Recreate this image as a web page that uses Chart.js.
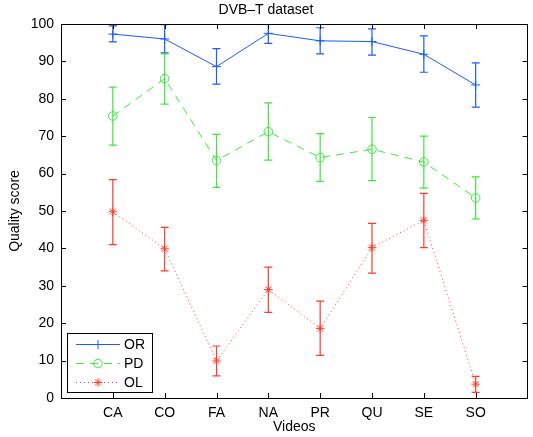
<!DOCTYPE html>
<html>
<head>
<meta charset="utf-8">
<script src="https://cdn.jsdelivr.net/npm/chart.js@4/dist/chart.umd.min.js"></script>
<style>
html,body{margin:0;padding:0;background:#fff;}
#wrap{width:533px;height:437px;}
</style>
</head>
<body>
<div id="wrap"><canvas id="c" width="533" height="437"></canvas></div>
<script>
const categories = ['CA','CO','FA','NA','PR','QU','SE','SO'];
const yTicks = [0,10,20,30,40,50,60,70,80,90,100];
const seriesNames = ['OR','PD','OL'];
const orValues = [97.3, 96.0, 88.6, 97.5, 95.5, 95.3, 91.9, 83.7];
const orHigh   = [99.5, 99.8, 93.4, 100.2, 99.0, 98.7, 96.8, 89.6];
const orLow    = [95.2, 92.3, 83.9, 94.8, 92.0, 91.7, 87.1, 77.8];
const pdValues = [75.4, 85.4, 63.5, 71.2, 64.3, 66.5, 63.1, 53.5];
const pdHigh   = [83.1, 92.0, 70.5, 78.9, 70.7, 75.0, 70.0, 59.1];
const pdLow    = [67.6, 78.6, 56.3, 63.6, 57.9, 58.1, 56.1, 47.9];
const olValues = [49.8, 39.9, 9.9, 29.0, 18.6, 40.2, 47.5, 3.7];
const olHigh   = [58.4, 45.6, 13.9, 35.0, 25.9, 46.7, 54.7, 5.8];
const olLow    = [41.0, 34.0, 5.9, 22.9, 11.4, 33.4, 40.2, 1.5];

const FONT = "'Liberation Sans',Arial,sans-serif";
const BLUE = '#1a5cff', GREEN = '#3ee63e', RED = '#ff3b2b';

function pts(vals){ return vals.map((v,i)=>({x:i+1,y:v})); }

const datasets = [
  {label:seriesNames[0], data:pts(orValues), hi:orHigh, lo:orLow, borderColor:BLUE, backgroundColor:BLUE,
   borderWidth:1, pointStyle:'cross', pointRadius:4.5, pointBorderWidth:1, pointBorderColor:BLUE, tension:0},
  {label:seriesNames[1], data:pts(pdValues), hi:pdHigh, lo:pdLow, borderColor:GREEN, backgroundColor:'rgba(0,0,0,0)',
   borderWidth:1, borderDash:[8,6], pointStyle:'circle', pointRadius:4.3, pointBorderWidth:1, pointBorderColor:GREEN, tension:0},
  {label:seriesNames[2], data:pts(olValues), hi:olHigh, lo:olLow, borderColor:RED, backgroundColor:RED,
   borderWidth:1, borderDash:[1,3], pointStyle:'star', pointRadius:4.3, pointBorderWidth:1, pointBorderColor:RED, tension:0}
];

const extras = {
  id:'extras',
  beforeDatasetsDraw(chart){
    const ctx = chart.ctx, a = chart.chartArea;
    const xs = chart.scales.x, ys = chart.scales.y;
    ctx.save();
    ctx.beginPath(); ctx.rect(a.left, a.top, a.right-a.left, a.bottom-a.top); ctx.clip();
    chart.data.datasets.forEach(ds=>{
      ctx.strokeStyle = ds.borderColor; ctx.lineWidth = 1.2; ctx.setLineDash([]);
      ds.data.forEach((p,i)=>{
        const px = xs.getPixelForValue(p.x);
        const yh = ys.getPixelForValue(ds.hi[i]);
        const yl = ys.getPixelForValue(ds.lo[i]);
        ctx.beginPath();
        ctx.moveTo(px, yh); ctx.lineTo(px, yl);
        ctx.moveTo(px-4, yh); ctx.lineTo(px+4, yh);
        ctx.moveTo(px-4, yl); ctx.lineTo(px+4, yl);
        ctx.stroke();
      });
    });
    ctx.restore();
  },
  afterDraw(chart){
    const ctx = chart.ctx, a = chart.chartArea;
    const xs = chart.scales.x, ys = chart.scales.y;
    ctx.save();
    ctx.strokeStyle = '#000'; ctx.lineWidth = 1; ctx.setLineDash([]);
    ctx.strokeRect(Math.round(a.left)+0.5, Math.round(a.top)+0.5, Math.round(a.right-a.left)-1, Math.round(a.bottom-a.top));
    ctx.beginPath();
    yTicks.forEach(v=>{
      const py = Math.round(ys.getPixelForValue(v))+0.5;
      ctx.moveTo(a.left, py); ctx.lineTo(a.left+5, py);
      ctx.moveTo(a.right, py); ctx.lineTo(a.right-5, py);
    });
    categories.forEach((c,i)=>{
      const px = Math.round(xs.getPixelForValue(i+1))+0.5;
      ctx.moveTo(px, a.bottom); ctx.lineTo(px, a.bottom-5);
      ctx.moveTo(px, a.top); ctx.lineTo(px, a.top+5);
    });
    ctx.stroke();
    // legend
    const lx = a.left+6, ly = 333, lw = 85, lh = 59;
    ctx.fillStyle = '#fff';
    ctx.fillRect(lx, ly, lw, lh);
    ctx.strokeStyle = '#000';
    ctx.strokeRect(lx+0.5, ly+0.5, lw, lh);
    chart.data.datasets.forEach((ds,i)=>{
      const cy = ly + 11 + i*19;
      ctx.save();
      ctx.strokeStyle = ds.borderColor; ctx.lineWidth = 1;
      ctx.setLineDash(ds.borderDash || []);
      ctx.beginPath(); ctx.moveTo(lx+9, cy+0.5); ctx.lineTo(lx+53, cy+0.5); ctx.stroke();
      ctx.setLineDash([]);
      ctx.strokeStyle = ds.borderColor;
      ctx.fillStyle = ds.backgroundColor;
      Chart.helpers.drawPoint(ctx, {pointStyle:ds.pointStyle, radius:ds.pointRadius, borderWidth:1, rotation:0}, lx+31, cy+0.5);
      ctx.restore();
      ctx.fillStyle = '#000';
      ctx.font = '14px ' + FONT;
      ctx.textBaseline = 'middle'; ctx.textAlign = 'left';
      ctx.fillText(ds.label, lx+57, cy+1);
    });
    ctx.restore();
  }
};

new Chart(document.getElementById('c'), {
  type:'line',
  data:{datasets:datasets},
  plugins:[extras],
  options:{
    responsive:false, animation:false, devicePixelRatio:1,
    layout:{padding:{left:0,right:1,top:0,bottom:0}},
    plugins:{
      legend:{display:false}, tooltip:{enabled:false},
      title:{display:true, text:'DVB\u2013T dataset', color:'#000',
        font:{family:FONT, size:14, weight:'normal'}, padding:{top:1.5,bottom:5.7}}
    },
    scales:{
      x:{type:'linear', min:0, max:9,
        afterBuildTicks(s){ s.ticks = categories.map((c,i)=>({value:i+1})); },
        afterFit(s){ s.height = 39; },
        grid:{display:false, drawTicks:false}, border:{display:false},
        ticks:{color:'#000', padding:7, autoSkip:false, maxRotation:0, font:{family:FONT,size:14},
          callback:(v)=>categories[v-1] ?? ''},
        title:{display:true, text:'Videos', color:'#000', font:{family:FONT,size:14}, padding:{top:0,bottom:1}}
      },
      y:{type:'linear', min:0, max:100,
        afterBuildTicks(s){ s.ticks = yTicks.map(v=>({value:v})); },
        afterFit(s){ s.width = 61; },
        grid:{display:false, drawTicks:false}, border:{display:false},
        ticks:{color:'#000', padding:7, font:{family:FONT,size:14}},
        title:{display:true, text:'Quality score', color:'#000', font:{family:FONT,size:14}, padding:{top:6.5,bottom:0}}
      }
    }
  }
});
</script>
</body>
</html>
